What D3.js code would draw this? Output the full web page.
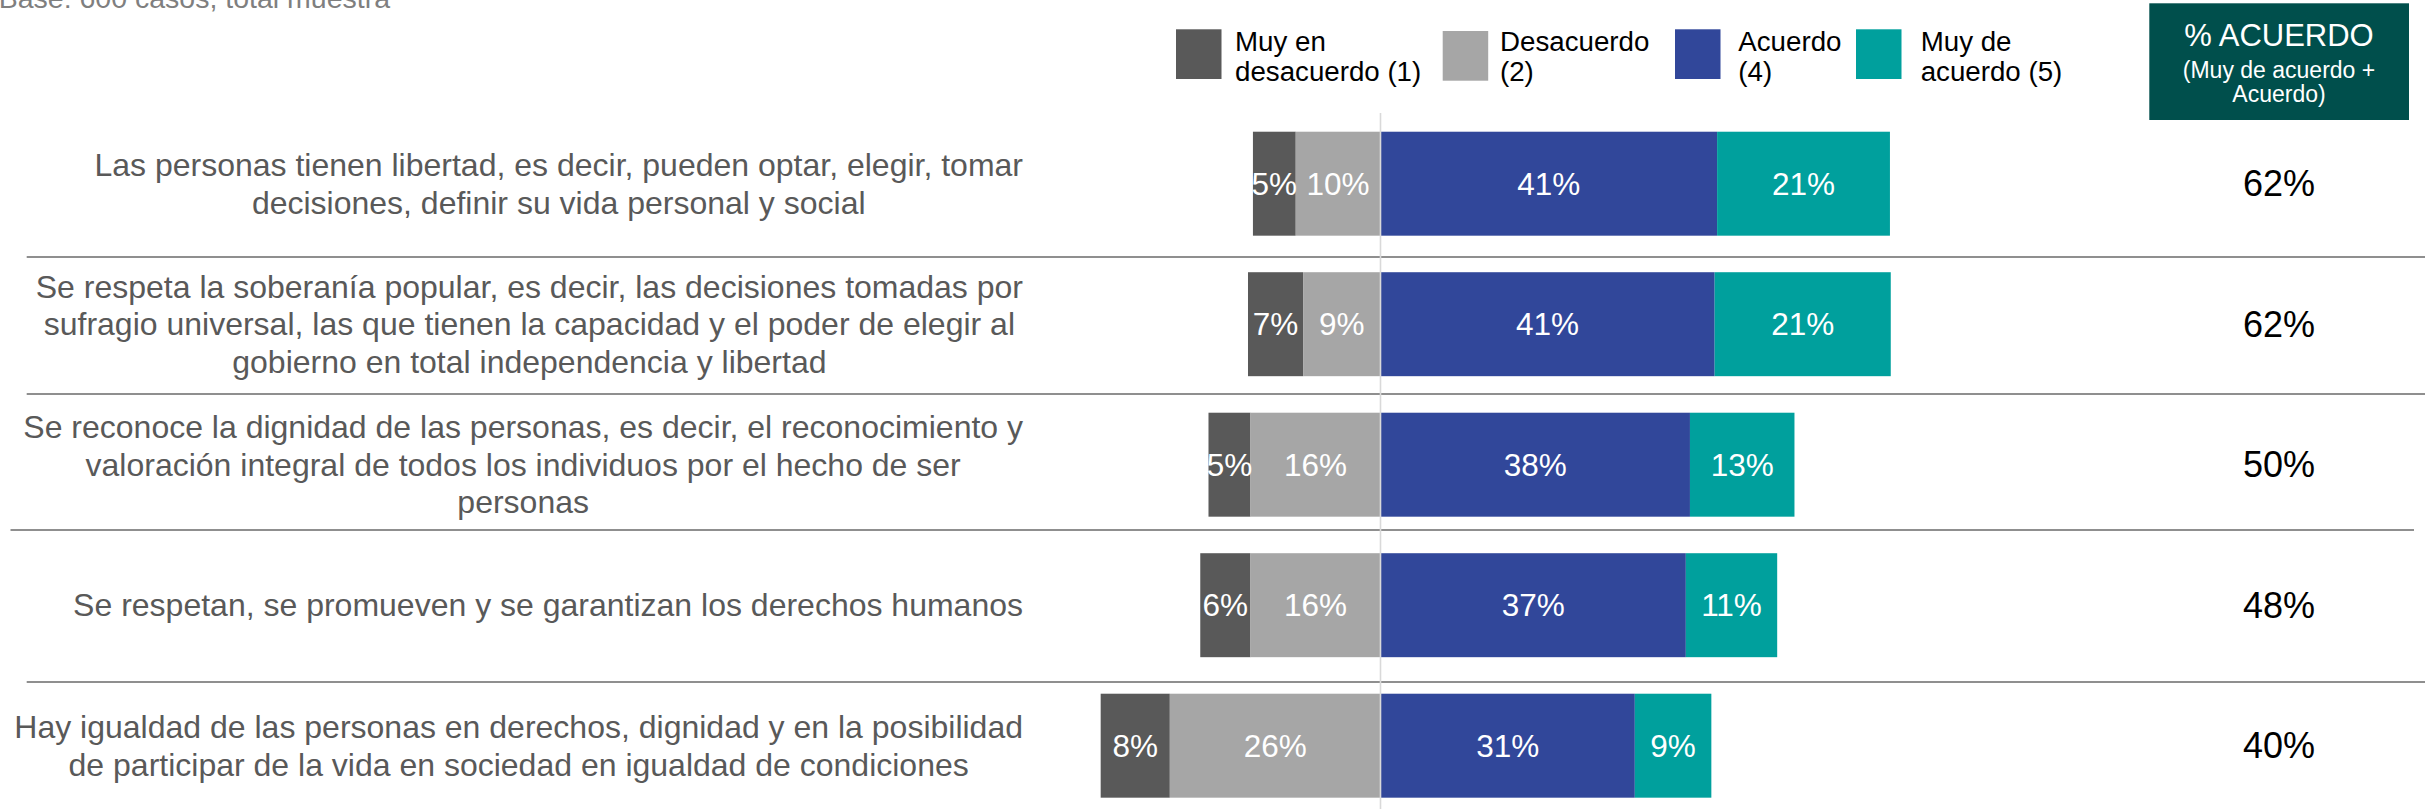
<!DOCTYPE html>
<html>
<head>
<meta charset="utf-8">
<script src="https://cdn.jsdelivr.net/npm/d3@7"></script>
<style>
  html, body { margin: 0; padding: 0; background: #ffffff; }
  svg { display: block; font-family: "Liberation Sans", Arial, sans-serif; }
</style>
</head>
<body>
<svg id="chart" width="2425" height="809"></svg>
<script>
// ---------------- DATA ----------------
const categories = [
  "Las personas tienen libertad, es decir, pueden optar, elegir, tomar\ndecisiones, definir su vida personal y social",
  "Se respeta la soberanía popular, es decir, las decisiones tomadas por\nsufragio universal, las que tienen la capacidad y el poder de elegir al\ngobierno en total independencia y libertad",
  "Se reconoce la dignidad de las personas, es decir, el reconocimiento y\nvaloración integral de todos los individuos por el hecho de ser\npersonas",
  "Se respetan, se promueven y se garantizan los derechos humanos",
  "Hay igualdad de las personas en derechos, dignidad y en la posibilidad\nde participar de la vida en sociedad en igualdad de condiciones"
];
const muyDesacuerdo = [5.2, 6.7, 5.1, 6.1, 8.4];
const desacuerdo    = [10.3, 9.4, 15.8, 15.8, 25.6];
const acuerdo       = [40.9, 40.6, 37.6, 37.1, 30.9];
const muyAcuerdo    = [21.0, 21.4, 12.7, 11.1, 9.3];
const seriesNames = ["Muy en\ndesacuerdo (1)", "Desacuerdo\n(2)", "Acuerdo\n(4)", "Muy de\nacuerdo (5)"];
const subtitle = "Base: 600 casos, total muestra";
const headerLines = ["% ACUERDO", "(Muy de acuerdo +", "Acuerdo)"];

// ---------------- LAYOUT / STYLE ----------------
const colors = ["#595959", "#a6a6a6", "#31479a", "#00a09d"];
const headerColor = "#004f4c";
const zeroX = 1380.5, pxPerPct = 8.23;
const legendSwatchX = [1176, 1442.7, 1675, 1856];
const legendSwatchY = [29.3, 31, 29.3, 29.3];
const legendTextX = [1235, 1500, 1738.3, 1920.7];
const separators = [
  {y: 257, x1: 26.7, x2: 2425},
  {y: 394, x1: 26.7, x2: 2425},
  {y: 530, x1: 10.5, x2: 2414},
  {y: 682, x1: 26.7, x2: 2425}
];

const svg = d3.select("#chart");

const x = d3.scaleLinear()
  .domain([-40, 70])
  .range([zeroX - 40 * pxPerPct, zeroX + 70 * pxPerPct]);

const y = d3.scaleBand()
  .domain(categories)
  .range([113.45, 815.95])
  .paddingInner(0.26)
  .paddingOuter(0.13);

// Build rows with stacked segments
const rows = categories.map((c, i) => {
  const d1 = muyDesacuerdo[i], d2 = desacuerdo[i], a4 = acuerdo[i], a5 = muyAcuerdo[i];
  return {
    cat: c,
    total: Math.round(a4 + a5),
    segs: [
      {s: 0, x0: -(d1 + d2), x1: -d2, v: d1},
      {s: 1, x0: -d2, x1: 0, v: d2},
      {s: 2, x0: 0, x1: a4, v: a4},
      {s: 3, x0: a4, x1: a4 + a5, v: a5}
    ]
  };
});

// Subtitle (cut at the top like the reference)
svg.append("text")
  .attr("x", 390).attr("y", 8)
  .attr("text-anchor", "end")
  .attr("font-size", 28.5)
  .attr("fill", "#7f7f7f")
  .text(subtitle);

// Separators
svg.append("g").selectAll("line").data(separators).join("line")
  .attr("x1", d => d.x1).attr("x2", d => d.x2)
  .attr("y1", d => d.y).attr("y2", d => d.y)
  .attr("stroke", "#8f8f8f").attr("stroke-width", 2);

// Bars
const rowG = svg.append("g").selectAll("g").data(rows).join("g");
rowG.selectAll("rect").data(r => r.segs.map(s => Object.assign({cat: r.cat}, s))).join("rect")
  .attr("x", d => x(d.x0))
  .attr("width", d => x(d.x1) - x(d.x0))
  .attr("y", d => y(d.cat))
  .attr("height", y.bandwidth())
  .attr("fill", d => colors[d.s]);

// Zero line
svg.append("line")
  .attr("x1", x(0)).attr("x2", x(0))
  .attr("y1", 113).attr("y2", 809)
  .attr("stroke", "#d9d9d9").attr("stroke-width", 1.6);

// Bar value labels
rowG.selectAll("text.val").data(r => r.segs.map(s => Object.assign({cat: r.cat}, s))).join("text")
  .attr("class", "val")
  .attr("x", d => (x(d.x0) + x(d.x1)) / 2)
  .attr("y", d => y(d.cat) + y.bandwidth() / 2)
  .attr("dy", "0.35em")
  .attr("text-anchor", "middle")
  .attr("font-size", 31.5)
  .attr("fill", "#ffffff")
  .text(d => Math.round(d.v) + "%");

// Totals
svg.append("g").selectAll("text").data(rows).join("text")
  .attr("x", 2279)
  .attr("y", d => y(d.cat) + y.bandwidth() / 2)
  .attr("dy", "0.35em")
  .attr("text-anchor", "middle")
  .attr("font-size", 36)
  .attr("fill", "#000000")
  .text(d => d.total + "%");

// Category labels (centered lines, widest line right-aligned to 1023)
const lineH = 37.5;
const labG = svg.append("g").selectAll("text").data(categories).join("text")
  .attr("font-size", 32)
  .attr("fill", "#595959")
  .attr("text-anchor", "middle");
labG.each(function(c) {
  const t = d3.select(this);
  const lines = c.split("\n");
  const cy = y(c) + y.bandwidth() / 2;
  lines.forEach((ln, i) => {
    t.append("tspan")
      .attr("y", cy + (i - (lines.length - 1) / 2) * lineH)
      .attr("dy", "0.35em")
      .text(ln);
  });
  let maxW = 0;
  t.selectAll("tspan").each(function() { maxW = Math.max(maxW, this.getComputedTextLength()); });
  t.selectAll("tspan").attr("x", 1023 - maxW / 2);
});

// Legend
const leg = svg.append("g").selectAll("g").data(seriesNames).join("g");
leg.append("rect")
  .attr("x", (d, i) => legendSwatchX[i])
  .attr("y", (d, i) => legendSwatchY[i])
  .attr("width", 45.5).attr("height", 49.7)
  .attr("fill", (d, i) => colors[i]);
leg.append("text")
  .attr("font-size", 27.7)
  .attr("fill", "#000000")
  .each(function(d, i) {
    const t = d3.select(this);
    d.split("\n").forEach((ln, j) => {
      t.append("tspan").attr("x", legendTextX[i]).attr("y", 50.5 + j * 30.5).text(ln);
    });
  });

// Header box
svg.append("rect")
  .attr("x", 2149.3).attr("y", 3.3)
  .attr("width", 259.7).attr("height", 116.7)
  .attr("fill", headerColor);
const hdr = svg.append("g");
hdr.append("text").attr("x", 2279).attr("y", 46)
  .attr("text-anchor", "middle").attr("font-size", 31).attr("fill", "#fff")
  .text(headerLines[0]);
hdr.append("text").attr("x", 2279).attr("y", 77.5)
  .attr("text-anchor", "middle").attr("font-size", 23).attr("fill", "#fff")
  .text(headerLines[1]);
hdr.append("text").attr("x", 2279).attr("y", 102)
  .attr("text-anchor", "middle").attr("font-size", 23).attr("fill", "#fff")
  .text(headerLines[2]);
</script>
</body>
</html>
